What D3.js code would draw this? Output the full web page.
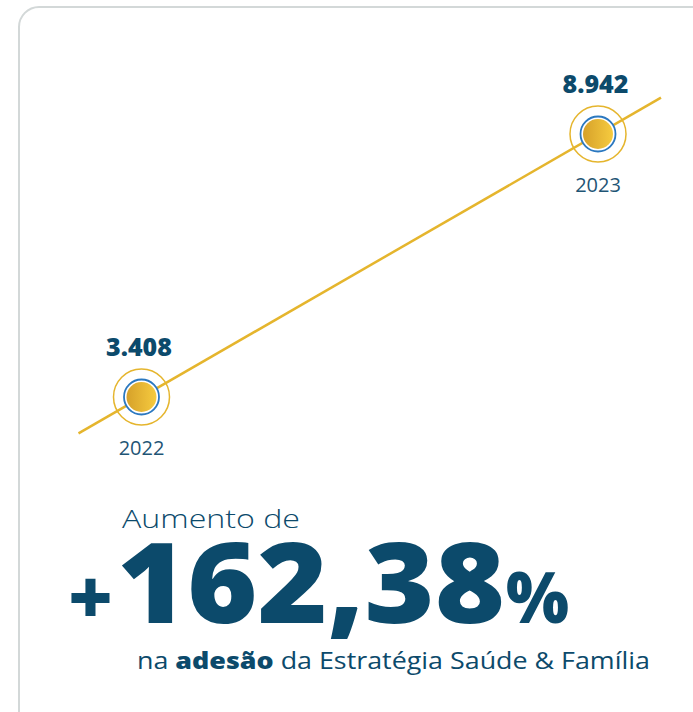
<!DOCTYPE html>
<html>
<head>
<meta charset="utf-8">
<script src="https://cdn.jsdelivr.net/npm/d3@7"></script>
<style>
  body { margin: 0; background: #fff; }
  svg { display: block; }
</style>
</head>
<body>
<svg id="chart"></svg>
<script>
// data
const years  = [2022, 2023];
const values = [3408, 8942];
const valueLabels = ["3.408", "8.942"];
const headline = "Aumento de";
const bigPrefix = "+";
const bigNumber = "162,38";
const bigSuffix = "%";

const width = 693, height = 712;
const navy = "#0c4a6b";
const gold = "#e5b52d";
const font = "'Open Sans', Lato, sans-serif";

const svg = d3.select("#chart").attr("width", width).attr("height", height);

// card outline, runs off the right and bottom edges
svg.append("rect")
    .attr("x", 19).attr("y", 7)
    .attr("width", 720).attr("height", 740)
    .attr("rx", 20)
    .attr("fill", "none")
    .attr("stroke", "#d3d8d8")
    .attr("stroke-width", 2);

const defs = svg.append("defs");
const grad = defs.append("linearGradient").attr("id", "goldGrad");
grad.append("stop").attr("offset", "0%").attr("stop-color", "#d6a12a");
grad.append("stop").attr("offset", "100%").attr("stop-color", "#f6cb3f");

const x = d3.scaleLinear().domain([2022, 2023]).range([141.5, 598]);
const y = d3.scaleLinear().domain([3408, 8942]).range([397, 134]);

// trend line extended a little past both points
const ext = 0.138;
const lineEnds = [years[0] - ext, years[1] + ext].map(t => {
    const v = values[0] + (values[1] - values[0]) * (t - years[0]) / (years[1] - years[0]);
    return [x(t), y(v)];
});
svg.append("path")
    .attr("d", d3.line()(lineEnds))
    .attr("stroke", gold)
    .attr("stroke-width", 2.5)
    .attr("fill", "none");

const pts = years.map((yr, i) => ({ yr, v: values[i], label: valueLabels[i] }));

const g = svg.selectAll(".pt").data(pts).enter().append("g")
    .attr("class", "pt")
    .attr("transform", d => `translate(${x(d.yr)},${y(d.v)})`);

g.append("circle").attr("r", 28).attr("fill", "none")
    .attr("stroke", gold).attr("stroke-width", 1.5);
g.append("circle").attr("r", 17.5).attr("fill", "#fff")
    .attr("stroke", "#2b78c0").attr("stroke-width", 1.8);
g.append("circle").attr("r", 15).attr("fill", "url(#goldGrad)");

g.append("text")
    .attr("x", -2.5).attr("y", -41)
    .attr("text-anchor", "middle")
    .attr("font-family", font)
    .attr("font-weight", 800)
    .attr("font-size", 25)
    .attr("fill", navy)
    .text(d => d.label);

g.append("text")
    .attr("x", 0).attr("y", 58)
    .attr("text-anchor", "middle")
    .attr("font-family", font)
    .attr("font-weight", 400)
    .attr("font-size", 20)
    .attr("fill", "#1f5575")
    .text(d => d.yr);

// big text block
svg.append("text")
    .attr("x", 122).attr("y", 528)
    .attr("font-family", font)
    .attr("font-weight", 300)
    .attr("font-size", 26)
    .attr("textLength", 178)
    .attr("lengthAdjust", "spacingAndGlyphs")
    .attr("fill", navy)
    .text(headline);

svg.append("text")
    .attr("x", 68).attr("y", 624)
    .attr("font-family", font)
    .attr("font-weight", 800)
    .attr("font-size", 76)
    .attr("textLength", 45)
    .attr("lengthAdjust", "spacingAndGlyphs")
    .attr("fill", navy)
    .text(bigPrefix);

svg.append("text")
    .attr("x", 117).attr("y", 623)
    .attr("font-family", font)
    .attr("font-weight", 800)
    .attr("font-size", 112)
    .attr("textLength", 388)
    .attr("lengthAdjust", "spacingAndGlyphs")
    .attr("fill", navy)
    .text(bigNumber);

svg.append("text")
    .attr("x", 506).attr("y", 623)
    .attr("font-family", font)
    .attr("font-weight", 800)
    .attr("font-size", 71)
    .attr("textLength", 63)
    .attr("lengthAdjust", "spacingAndGlyphs")
    .attr("fill", navy)
    .text(bigSuffix);

const sub = svg.append("text")
    .attr("x", 137).attr("y", 669)
    .attr("font-family", font)
    .attr("font-size", 23)
    .attr("font-weight", 400)
    .attr("textLength", 513)
    .attr("lengthAdjust", "spacingAndGlyphs")
    .attr("fill", navy);
sub.append("tspan").text("na ");
sub.append("tspan").attr("font-weight", 800).text("adesão");
sub.append("tspan").text(" da Estratégia Saúde & Família");
</script>
</body>
</html>
